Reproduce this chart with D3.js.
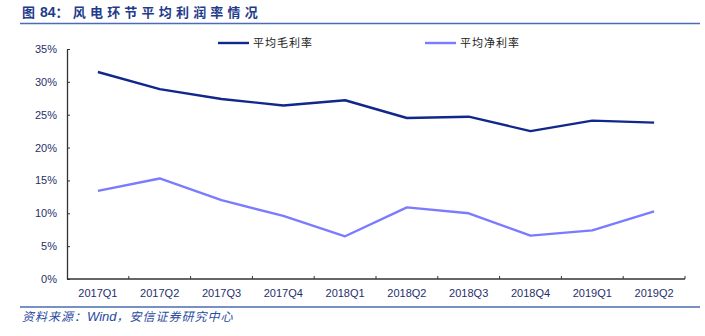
<!DOCTYPE html>
<html>
<head>
<meta charset="utf-8">
<script src="https://cdn.jsdelivr.net/npm/d3@7/dist/d3.min.js"></script>
<style>
  html, body { margin: 0; padding: 0; background: #fff; }
  svg { display: block; }
</style>
</head>
<body>
<script>
// Quarterly average margins of the wind-power segment (%)
const quarters = ["2017Q1","2017Q2","2017Q3","2017Q4","2018Q1","2018Q2","2018Q3","2018Q4","2019Q1","2019Q2"];
const grossMargin = [31.5, 28.9, 27.4, 26.4, 27.2, 24.5, 24.7, 22.5, 24.1, 23.8];
const netMargin   = [13.4, 15.3, 12.0, 9.6, 6.5, 10.9, 10.0, 6.6, 7.4, 10.3];
const yTicks = [0, 5, 10, 15, 20, 25, 30, 35];
const seriesNames = ["平均毛利率", "平均净利率"];

const W = 705, H = 336;
const plot = { left: 67, right: 685, top: 49, bottom: 279 };
const cjk = "'Noto Sans CJK SC', 'Noto Sans', sans-serif";
const latin = "'Liberation Sans', Arial, sans-serif";
const navyText = "#1f2f6b";

const svg = d3.select("body").append("svg")
  .attr("width", W).attr("height", H);

// Title and rules
svg.append("text")
  .attr("x", 22).attr("y", 17)
  .attr("font-family", cjk).attr("font-size", 13).attr("font-weight", "bold")
  .attr("fill", "#1f3b8a")
  .call(t => {
    t.append("tspan").attr("letter-spacing", 1).text("图 ");
    t.append("tspan").attr("font-family", latin).attr("font-size", 14).text("84");
    t.append("tspan").attr("letter-spacing", 4.2).text("：风电环节平均利润率情况");
  });
svg.append("line").attr("x1", 20).attr("x2", 700).attr("y1", 23.5).attr("y2", 23.5)
  .attr("stroke", "#4a6db3").attr("stroke-width", 1.5);
svg.append("line").attr("x1", 20).attr("x2", 700).attr("y1", 307).attr("y2", 307)
  .attr("stroke", "#4a6db3").attr("stroke-width", 1.5);
svg.append("text")
  .attr("x", 22).attr("y", 321)
  .attr("font-family", cjk).attr("font-size", 12).attr("font-style", "italic")
  .attr("fill", "#2a4aa0")
  .call(t => {
    t.append("tspan").attr("letter-spacing", 1).text("资料来源：");
    t.append("tspan").attr("font-family", latin).attr("font-size", 13).text("Wind");
    t.append("tspan").attr("letter-spacing", 1).text("，安信证券研究中心");
  });

// Scales
const x = d3.scaleBand().domain(quarters).range([plot.left, plot.right]);
const y = d3.scaleLinear().domain([0, 35]).range([plot.bottom, plot.top]);

// Y axis
const yAxis = d3.axisLeft(y).tickValues(yTicks).tickFormat(d => d + "%")
  .tickSizeInner(-3).tickSizeOuter(0).tickPadding(10);
const gy = svg.append("g").attr("transform", `translate(${plot.left},0)`).call(yAxis);
gy.select(".domain").attr("stroke", "#333").attr("stroke-width", 1.3);
gy.selectAll(".tick line").attr("stroke", "#333");
gy.selectAll(".tick text").attr("font-family", latin).attr("font-size", 11)
  .attr("fill", navyText);

// X axis: ticks at band boundaries, labels at band centres
const gx = svg.append("g").attr("transform", `translate(0,${plot.bottom})`);
gx.append("line").attr("x1", plot.left).attr("x2", plot.right).attr("y1", 0).attr("y2", 0)
  .attr("stroke", "#333").attr("stroke-width", 1.3);
const bounds = quarters.map(q => x(q) + x.bandwidth());
gx.selectAll(".xt").data(bounds).join("line")
  .attr("x1", d => d).attr("x2", d => d).attr("y1", 0).attr("y2", -3)
  .attr("stroke", "#333");
gx.selectAll(".xl").data(quarters).join("text")
  .attr("x", d => x(d) + x.bandwidth() / 2).attr("y", 18)
  .attr("text-anchor", "middle")
  .attr("font-family", latin).attr("font-size", 11).attr("fill", navyText)
  .text(d => d);

// Lines
const colors = ["#10288c", "#7b7bff"];
const line = d3.line().x((d, i) => x(quarters[i]) + x.bandwidth() / 2).y(d => y(d));
[grossMargin, netMargin].forEach((vals, k) => {
  svg.append("path").datum(vals)
    .attr("d", line).attr("fill", "none")
    .attr("stroke", colors[k]).attr("stroke-width", 2.4)
    .attr("stroke-linejoin", "round");
});

// Legend
const legendX = [218, 425];
seriesNames.forEach((name, k) => {
  const g = svg.append("g").attr("transform", `translate(${legendX[k]},43)`);
  g.append("line").attr("x1", 0).attr("x2", 31).attr("y1", 0).attr("y2", 0)
    .attr("stroke", colors[k]).attr("stroke-width", 2.4);
  g.append("text").attr("x", 35).attr("y", 4)
    .attr("font-family", cjk).attr("font-size", 11).attr("letter-spacing", 1)
    .attr("fill", "#222").text(name);
});
</script>
</body>
</html>
